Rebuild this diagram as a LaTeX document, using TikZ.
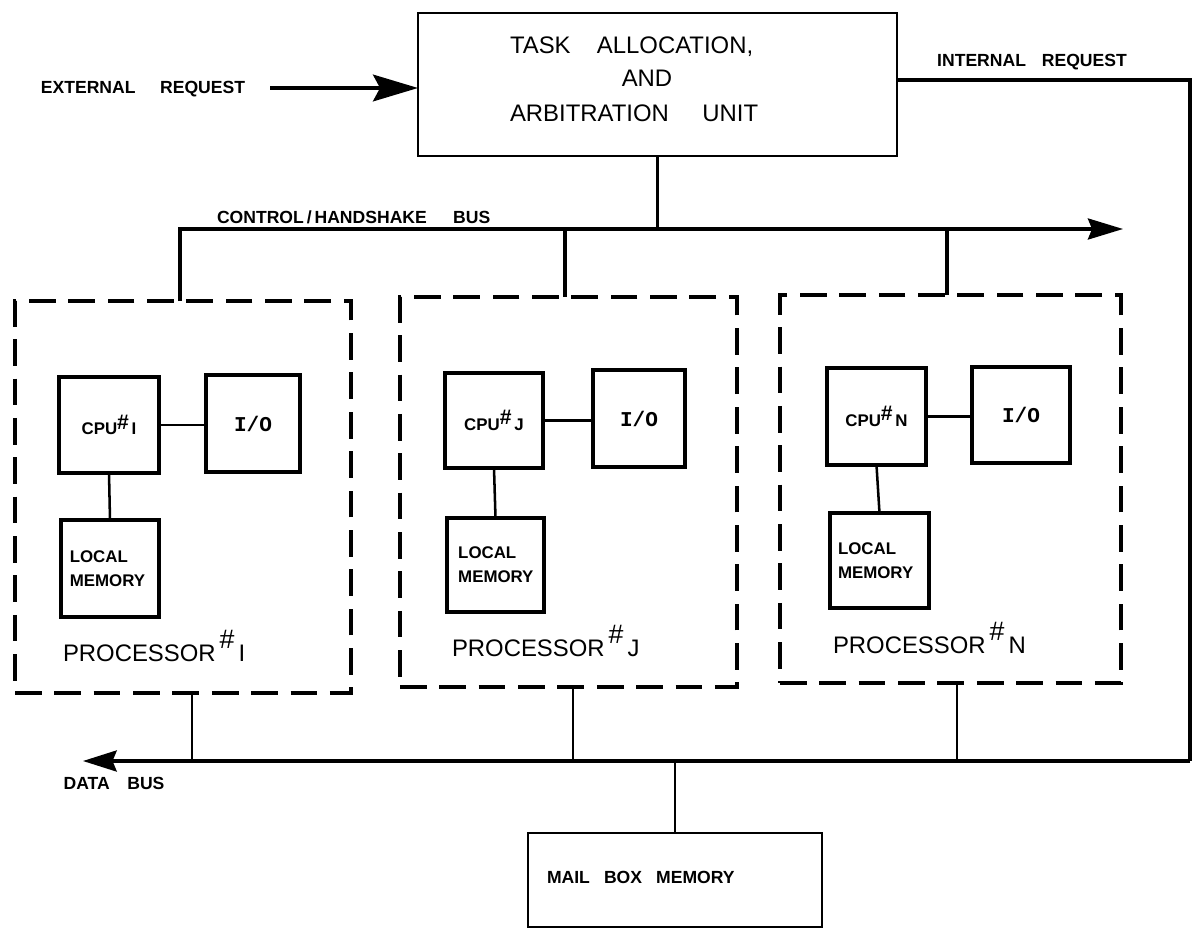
\documentclass[tikz,border=0pt]{standalone}
\usepackage{fontspec}
\setmainfont{Liberation Sans}
\setmonofont{Liberation Mono}
\usetikzlibrary{arrows.meta}
\newcommand\hashup{\raisebox{0.6ex}{\fontsize{15}{15}\selectfont\bfseries\#}\,}
\newcommand\bighash{\,\raisebox{1.0ex}{\fontsize{19}{19}\selectfont\#}\,}
\begin{document}
\begin{tikzpicture}[x=0.25mm,y=-0.25mm,
  every node/.style={inner sep=0pt,outer sep=0pt},
  wh/.style 2 args={minimum width=#1*0.25mm,minimum height=#2*0.25mm},
  topbox/.style={draw,line width=2.1pt},
  inbox/.style={draw,line width=2.8pt},
  procbox/.style={draw,line width=3.2pt,dash pattern=on 19pt off 9pt},
  mailbox/.style={draw,line width=1.9pt},
  wire/.style={line width=1.8pt},
  bus/.style={line width=2.2pt},
  lbl/.style={font=\fontsize{12.5}{14}\selectfont\bfseries},
  small/.style={font=\fontsize{12}{17}\selectfont\bfseries},
  big/.style={font=\fontsize{17}{19}\selectfont},
  iof/.style={font=\fontsize{15}{16}\selectfont\ttfamily\bfseries}]
\useasboundingbox (0,0) rectangle (1197,929);

% top unit
\node[topbox,wh={479}{143}] (top) at (657.5,84.5) {};
\node[big,anchor=west] (t1) at (510,47) {TASK\hspace{1.1em}ALLOCATION,};
\node[big] (t2) at (647,78) {AND};
\node[big,anchor=west] (t3) at (510,113) {ARBITRATION\hspace{1.4em}UNIT};

% external request
\node[lbl] (ext) at (143,89) {EXTERNAL\hspace{1.4em}REQUEST};
\coordinate (exs) at (270,88);
\draw[line width=2.4pt,-{Stealth[length=32pt,width=19pt,inset=5pt]}] (exs) -- (exs -| top.west);

% internal request
\node[lbl] (int) at (1032,62) {INTERNAL\hspace{0.9em}REQUEST};
\coordinate (irc) at (1190,80);
\coordinate (dbr) at (1190,761);

% processor boxes
\node[procbox,wh={336}{392}] (P1) at (183,497) {};
\node[procbox,wh={337}{390}] (P2) at (568.5,492) {};
\node[procbox,wh={341}{388}] (P3) at (950.5,489) {};

% control bus
\coordinate (cbl) at (180,229);
\coordinate (cbr) at (1123,229);
\coordinate (c2) at (565,229);
\coordinate (c3) at (947,229);
\node[lbl,anchor=west] (cbt) at (217,217) {CONTROL\,/\,HANDSHAKE\hspace{1.5em}BUS};
\draw[bus] (top.south) -- (top.south |- cbl);
\draw[bus,-{Stealth[length=25pt,width=15pt,inset=3pt]}] (cbl |- P1.north) -- (cbl) -- (cbr);
\draw[bus] (c2) -- (c2 |- P2.north);
\draw[bus] (c3) -- (c3 |- P3.north);

% processor 1
\node[inbox,wh={100}{96},small] (C1) at (109,425) {CPU\hashup I};
\node[inbox,wh={94}{97},iof] (IO1) at (253,423.5) {I/O};
\node[inbox,wh={98}{97}] (LM1) at (110,568.5) {};
\node[small,anchor=west,align=left] (M1t) at ([xshift=2.2mm]LM1.west) {LOCAL\\MEMORY};
\draw[wire] (C1.east) -- (C1.east -| IO1.west);
\draw[wire] (C1.south) -- (LM1.north);
\node[big,anchor=base west] (L1) at (63,661) {PROCESSOR\bighash I};

% processor 2
\node[inbox,wh={98}{95},small] (C2) at (494,420.5) {CPU\hashup J};
\node[inbox,wh={92}{97},iof] (IO2) at (639,418.5) {I/O};
\node[inbox,wh={97}{94}] (LM2) at (495.5,565) {};
\node[small,anchor=west,align=left] (M2t) at ([xshift=2.8mm]LM2.west) {LOCAL\\MEMORY};
\draw[wire] (C2.east) -- (C2.east -| IO2.west);
\draw[wire] (C2.south) -- (LM2.north);
\node[big,anchor=base west] (L2) at (452,656) {PROCESSOR\bighash J};

% processor 3
\node[inbox,wh={99}{97},small] (C3) at (876.5,416.5) {CPU\hashup N};
\node[inbox,wh={98}{96},iof] (IO3) at (1021,415) {I/O};
\node[inbox,wh={99}{95}] (LM3) at (879.5,560.5) {};
\node[small,anchor=west,align=left] (M3t) at ([xshift=2mm]LM3.west) {LOCAL\\MEMORY};
\draw[wire] (C3.east) -- (C3.east -| IO3.west);
\draw[wire] (C3.south) -- (LM3.north);
\node[big,anchor=base west] (L3) at (833,653) {PROCESSOR\bighash N};

% data bus
\coordinate (dbl) at (83,761);
\coordinate (d1) at (192,761);
\coordinate (d2) at (573,761);
\coordinate (d3) at (957,761);
\coordinate (d4) at (675,761);
\draw[bus] (top.east |- irc) -- (irc) -- (dbr);
\draw[bus,-{Stealth[length=24pt,width=15pt,inset=3pt]}] (dbr) -- (dbl);
\node[lbl] (dbt) at (114,783) {DATA\hspace{1em}BUS};
\draw[wire] (d1 |- P1.south) -- (d1);
\draw[wire] (d2 |- P2.south) -- (d2);
\draw[wire] (d3 |- P3.south) -- (d3);

% mailbox
\node[mailbox,wh={294}{94}] (MB) at (675,880) {};
\node[lbl,anchor=west] (mbt) at (547,877) {MAIL\hspace{0.8em}BOX\hspace{0.8em}MEMORY};
\draw[wire] (d4) -- (MB.north);
\end{tikzpicture}
\end{document}
